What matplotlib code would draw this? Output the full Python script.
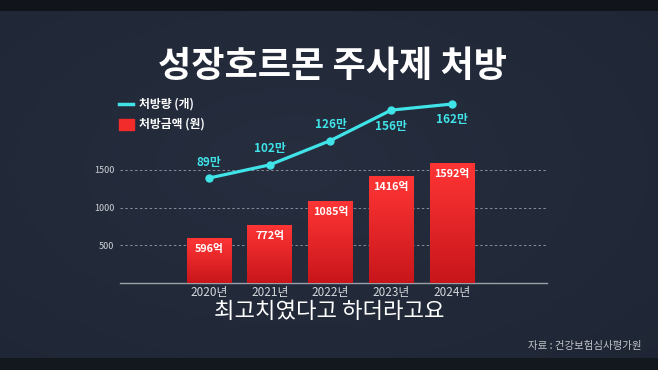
import matplotlib
matplotlib.use("Agg")
import matplotlib.pyplot as plt
import numpy as np
from matplotlib.lines import Line2D
from matplotlib.patches import Rectangle

plt.rcParams['font.family'] = ['Noto Sans CJK KR', 'DejaVu Sans']

# data
years = ["2020년", "2021년", "2022년", "2023년", "2024년"]
amount = [596, 772, 1085, 1416, 1592]          # 처방금액 (억원)
amount_labels = ["596억", "772억", "1085억", "1416억", "1592억"]
count = [89, 102, 126, 156, 162]               # 처방량 (만개)
count_labels = ["89만", "102만", "126만", "156만", "162만"]
count_label_side = [1, 1, 1, -1, -1]           # 1 above the point, -1 below
yticks = [500, 1000, 1500]

BG = "#212837"
CYAN = "#3fe3e8"
RED = "#f22b2b"
GRID = "#8a909a"

W, H = 658, 370
fig = plt.figure(figsize=(W / 100, H / 100), dpi=100)
fig.patch.set_facecolor(BG)

# background with slight vignette + dark strips top/bottom
bg = fig.add_axes([0, 0, 1, 1], zorder=-10)
yy, xx = np.mgrid[0:H, 0:W]
r = np.sqrt(((xx - W * 0.45) / W) ** 2 + ((yy - H * 0.45) / H) ** 2)
shade = np.clip(1 - 0.55 * r, 0, 1)
base = np.array([0x15, 0x1a, 0x25]) / 255
top = np.array([0x26, 0x2e, 0x3f]) / 255
img = base + (top - base) * shade[..., None]
img[:11] = np.array([0x11, 0x14, 0x1a]) / 255
img[358:] = np.array([0x13, 0x17, 0x1e]) / 255
bg.imshow(img, extent=[0, W, H, 0], aspect='auto')
bg.set_xlim(0, W)
bg.set_ylim(H, 0)
bg.axis('off')

# chart axes
ax = fig.add_axes([120 / W, 87 / H, 427 / W, 188 / H])
ax.set_facecolor('none')
x = np.arange(len(years))
bars = ax.bar(x, amount, width=0.74, color=RED, zorder=3)

# vertical red gradient inside each bar
grad = np.linspace(0, 1, 100)[:, None]
cmap = matplotlib.colors.LinearSegmentedColormap.from_list("r", ["#c8161b", "#ff3535"])
for b in bars:
    bx, bw, bh = b.get_x(), b.get_width(), b.get_height()
    im = ax.imshow(grad, cmap=cmap, extent=[bx, bx + bw, 0, bh], origin='lower',
                   aspect='auto', zorder=3.5)
    im.set_clip_path(b)
ax.set_xlim(-1.465, 5.564)
ax.set_ylim(0, 2493)

for yv in yticks:
    ax.axhline(yv, color=GRID, lw=0.7, ls=(0, (2.5, 2.5)), zorder=1)
for s in ["top", "right", "left"]:
    ax.spines[s].set_visible(False)
ax.spines["bottom"].set_color("#9a9fa8")
ax.spines["bottom"].set_linewidth(1.0)
ax.set_yticks(yticks)
ax.set_yticklabels([str(v) for v in yticks], color="#d0d3d8", fontsize=6.5)
ax.tick_params(axis='y', length=0, pad=4)
ax.set_xticks(x)
ax.set_xticklabels(years, color="#d5d8dc", fontsize=8.5)
ax.tick_params(axis='x', length=0, pad=2)

for xi, v, lab in zip(x, amount, amount_labels):
    ax.annotate(lab, (xi, v), xytext=(0, -8), textcoords='offset points',
                ha='center', va='center', color='white', fontsize=7.8,
                fontweight='bold', zorder=5)

# line on secondary scale
ax2 = ax.twinx()
ax2.set_ylim(-14.5, 170.9)
ax2.axis('off')
ax2.plot(x, count, color=CYAN, lw=2.3, marker='o', ms=5, zorder=4)
for xi, v, lab, side in zip(x, count, count_labels, count_label_side):
    ax2.annotate(lab, (xi, v), xytext=(0, 11.5 * side), textcoords='offset points',
                 ha='center', va='center', color=CYAN, fontsize=8.5,
                 fontweight='bold')

# legend
fig.add_artist(Line2D([119 / W, 133 / W], [1 - 104 / H, 1 - 104 / H],
                      color=CYAN, lw=2.5, transform=fig.transFigure))
fig.add_artist(Rectangle((119 / W, 1 - 130 / H), 15 / W, 11 / H,
                         color=RED, transform=fig.transFigure))
fig.text(139 / W, 1 - 104 / H, "처방량 (개)", color='white', fontsize=8.5,
         fontweight='bold', va='center', ha='left')
fig.text(139 / W, 1 - 124.5 / H, "처방금액 (원)", color='white', fontsize=8.5,
         fontweight='bold', va='center', ha='left')

# title, caption, source
fig.text(333 / W, 1 - 66 / H, "성장호르몬 주사제 처방", color='white',
         fontsize=26, fontweight='heavy', ha='center', va='center')
fig.text(329 / W, 1 - 312 / H, "최고치였다고 하더라고요", color='white',
         fontsize=16, ha='center', va='center')
fig.text(642 / W, 1 - 346 / H, "자료 : 건강보험심사평가원", color='#c4c7cc',
         fontsize=7.5, ha='right', va='center')

fig.savefig("out.png", dpi=100, facecolor=fig.get_facecolor())
